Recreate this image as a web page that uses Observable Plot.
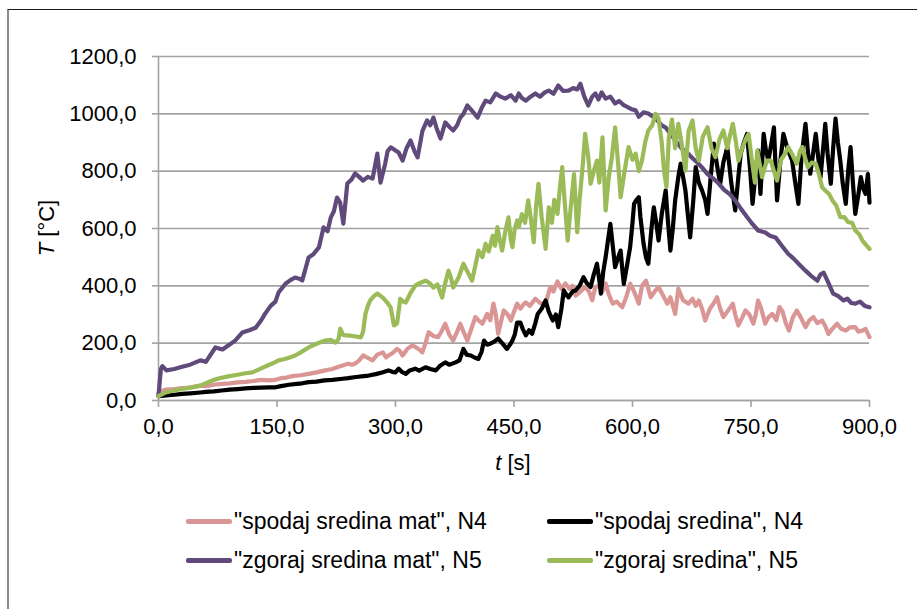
<!DOCTYPE html>
<html>
<head>
<meta charset="utf-8">
<script src="https://cdn.jsdelivr.net/npm/d3@7"></script>
<script src="https://cdn.jsdelivr.net/npm/@observablehq/plot@0.6"></script>
<style>
  html, body { margin: 0; padding: 0; background: #fff; }
  body { width: 917px; height: 609px; position: relative; overflow: hidden; font-family: "Liberation Sans", Arial, sans-serif; }
  #frame { position: absolute; left: 7px; top: 9px; right: 0; bottom: 0; border-top: 1px solid #1a1a1a; border-left: 2px solid #8c8c8c; }
  #chart { position: absolute; left: 0; top: 0; }
  .title { position: absolute; font-size: 22px; color: #000; white-space: nowrap; }
  #xtitle { left: 513px; top: 463px; transform: translate(-50%, -50%); }
  #ytitle { left: 47px; top: 228px; transform: translate(-50%, -50%) rotate(-90deg); }
  .leg { position: absolute; display: flex; align-items: center; font-size: 23px; color: #000; white-space: nowrap; }
  .sw { width: 46px; height: 5px; margin-right: 2px; border-radius: 2px; }
</style>
</head>
<body>
<div id="frame"></div>
<div id="chart"></div>
<div id="xtitle" class="title"><i>t</i> [s]</div>
<div id="ytitle" class="title"><i>T</i> [°C]</div>
<div id="legend"></div>
<script>
// ---- data ----
const seriesNames = ['"spodaj sredina mat", N4', '"spodaj sredina", N4', '"zgoraj sredina mat", N5', '"zgoraj sredina", N5'];
const seriesColors = ["#D99694", "#000000", "#604A7B", "#9BBB59"];

const tPink = [0,5,10,20,30,40,53,60,70,80,90,100,110,120,130,140,148,155,162,170,180,190,200,211,220,228,233,240,245,249,254,259,264,271,277,284,288,291,296,302,305,309,315,321,326,330,334,338,342,348,354,358,363,368,373,378,382,386,391,396,401,405,410,416,420,424,427,430,434,437,442,446,450,454,458,462,465,470,477,483,490,496,500,505,510,515,520,524,528,534,540,545,549,553,558,562,566,570,575,580,587,592,597,602,608,612,617,620,623,628,633,638,644,648,654,658,664,671,676,680,684,688,692,698,703,707,711,715,720,727,730,734,739,743,748,753,756,759,763,768,772,777,782,786,790,794,798,803,808,813,819,824,829,834,840,844,848,853,859,864,870,875,882,886,891,895,900];
const vPink = [25,35,38,40,43,45,52,50,55,58,60,63,65,68,72,70,72,78,80,85,88,93,98,105,110,118,122,128,125,129,140,157,150,140,160,168,150,157,165,180,174,157,180,192,185,178,168,200,238,225,221,240,268,230,209,240,268,240,209,250,291,280,268,302,280,338,300,233,280,314,300,279,310,338,320,335,342,330,355,340,338,396,380,415,390,408,390,400,366,380,396,380,350,396,400,380,408,370,338,345,325,360,408,380,338,400,418,390,360,380,396,370,338,360,302,390,350,338,355,330,349,320,279,320,340,360,320,291,310,338,300,262,290,314,300,268,300,349,320,268,290,302,280,326,310,270,244,290,314,290,256,280,291,270,279,260,232,250,268,250,244,255,256,240,244,250,221];

const tBlack = [0,10,20,30,40,53,60,70,80,90,100,110,120,130,140,148,155,165,175,182,190,200,210,220,233,240,250,260,266,275,283,291,296,300,304,308,313,318,325,330,338,344,351,356,363,368,376,381,386,390,395,400,405,409,412,416,420,425,430,435,441,445,448,451,454,458,461,465,469,473,477,480,485,490,494,499,503,506,510,513,516,519,524,528,533,538,542,547,551,555,558,560,563,566,569,572,575,578,582,585,587,589,593,597,600,602,605,608,610,614,617,620,624,627,630,633,637,642,645,648,651,654,658,661,664,667,670,673,677,680,684,688,692,695,699,703,707,711,715,720,725,730,734,737,741,745,749,752,756,759,762,766,769,772,776,779,781,783,787,791,796,802,806,810,814,819,822,825,829,832,835,838,841,844,847,851,854,857,860,863,866,870,873,876,879,882,886,889,892,895,898,900];
const vBlack = [15,18,20,23,25,28,30,32,35,38,40,42,44,45,46,46,50,55,58,60,64,66,70,72,76,78,82,85,87,92,98,105,100,98,111,100,93,105,111,104,116,110,105,120,133,125,133,140,180,160,157,150,145,170,209,195,198,205,216,200,180,195,209,230,272,272,250,227,245,233,270,302,320,349,310,279,300,256,320,384,370,360,380,384,400,430,410,396,440,477,420,373,450,500,560,616,540,465,500,523,460,407,470,535,620,686,700,709,640,547,500,477,600,674,620,558,650,733,620,523,600,698,780,826,780,733,650,569,700,814,760,733,700,651,780,896,820,756,830,884,760,663,780,861,900,930,800,686,800,872,721,930,870,837,900,953,820,698,830,930,880,837,760,686,850,965,870,791,870,930,850,779,870,965,860,756,880,983,900,837,760,686,800,884,760,651,720,779,740,721,790,690];

const tPurple = [0,3,5,10,20,30,40,53,60,72,81,90,97,106,115,123,130,135,142,148,152,161,167,173,178,182,190,196,203,209,214,218,222,226,230,234,239,244,249,254,259,265,271,277,281,287,290,294,300,304,309,314,319,324,328,334,340,344,348,352,357,363,368,373,378,382,386,391,397,404,409,414,420,427,433,439,446,452,456,460,465,471,477,483,489,494,500,506,512,519,525,530,534,539,544,549,553,557,561,566,572,578,583,589,595,600,604,608,614,620,626,632,637,642,648,655,662,669,676,682,688,695,702,709,716,723,730,737,745,752,759,768,774,781,789,797,804,812,819,826,834,838,842,848,854,860,867,872,877,882,888,894,900];
const vPurple = [18,110,120,105,110,118,125,140,135,185,178,195,209,237,245,254,280,303,330,345,377,408,420,429,425,419,499,510,534,604,590,638,660,708,690,617,757,770,792,780,767,780,774,861,760,827,870,883,872,865,837,880,907,870,848,940,977,960,987,950,914,970,955,942,960,987,1000,1029,1010,987,1020,1046,1040,1071,1060,1053,1065,1046,1071,1055,1046,1060,1071,1060,1075,1081,1070,1099,1080,1081,1090,1085,1105,1060,1029,1060,1071,1050,1075,1053,1060,1036,1045,1030,1022,1015,1012,990,1005,1001,990,975,960,952,930,905,880,865,845,830,813,790,775,757,735,720,698,670,640,615,593,586,575,569,540,512,495,472,453,435,418,440,446,410,373,365,349,355,340,338,345,330,325];

const tGreen = [0,9,20,30,40,53,60,70,81,90,100,110,119,130,138,144,152,160,166,173,180,190,200,211,218,224,228,230,234,240,248,256,259,262,265,268,273,277,281,285,290,294,298,302,306,310,313,319,325,331,338,343,348,353,359,363,367,370,373,380,386,391,397,401,405,410,414,418,423,426,429,432,435,439,443,446,448,451,454,456,460,464,468,471,475,478,481,485,490,494,498,501,505,508,511,514,518,522,526,530,533,537,540,544,547,551,555,558,562,566,570,574,578,582,585,590,595,600,604,608,612,616,620,625,629,633,637,640,643,646,650,654,658,662,667,671,676,680,684,689,695,700,705,710,715,720,723,727,731,734,739,743,747,751,755,758,764,770,775,779,783,788,793,797,802,808,812,815,818,822,827,832,836,840,845,849,853,858,863,868,873,878,882,887,891,895,900];
const vGreen = [15,28,35,40,45,52,60,72,80,85,90,95,98,112,122,129,140,145,150,157,168,185,198,209,212,202,215,251,228,227,224,220,240,303,330,349,365,373,365,356,340,324,262,269,355,345,342,375,401,410,418,410,394,405,359,410,453,430,394,430,477,450,418,470,523,500,547,520,575,540,605,560,523,590,639,560,535,600,628,605,650,620,698,640,552,680,756,640,529,674,620,700,651,740,814,700,558,680,790,587,700,820,930,850,756,800,837,760,918,663,780,850,953,820,709,800,884,840,861,800,837,900,942,960,1000,985,900,800,745,918,980,880,965,900,802,940,977,880,837,920,953,880,849,910,942,880,920,965,900,837,880,910,930,840,760,872,779,837,837,800,767,840,860,884,860,826,870,884,850,814,830,826,790,744,730,720,698,680,640,640,622,620,593,580,558,545,529];

const xTicks = [0, 150, 300, 450, 600, 750, 900];
const yTicks = [0, 200, 400, 600, 800, 1000, 1200];

// ---- build table ----
const seriesT = [tPink, tBlack, tPurple, tGreen];
const seriesV = [vPink, vBlack, vPurple, vGreen];
const rows = [];
seriesNames.forEach((name, i) => {
  seriesT[i].forEach((t, j) => rows.push({series: name, t, T: seriesV[i][j]}));
});

const fmt = d => d.toFixed(1).replace(".", ",");
const gridColor = "#a3a3a3";

const chart = Plot.plot({
  width: 917,
  height: 480,
  marginLeft: 158,
  marginRight: 48,
  marginTop: 56,
  marginBottom: 80,
  style: {fontFamily: "'Liberation Sans', Arial, sans-serif", fontSize: "22px", background: "transparent", color: "#000"},
  x: {domain: [0, 900]},
  y: {domain: [0, 1200]},
  color: {domain: seriesNames, range: seriesColors},
  marks: [
    Plot.gridY(yTicks, {stroke: gridColor, strokeOpacity: 1, strokeWidth: 1.6}),
    Plot.ruleX([0], {stroke: gridColor, strokeWidth: 1.6}),
    Plot.ruleY([0], {stroke: gridColor, strokeWidth: 1.6}),
    Plot.axisX(xTicks, {tickFormat: fmt, tickSize: 7, tickPadding: 11, stroke: gridColor, strokeWidth: 1.6, fill: "#000", fontSize: 22, label: null}),
    Plot.axisY(yTicks, {tickFormat: fmt, tickSize: 6, tickPadding: 16, stroke: gridColor, strokeWidth: 1.6, fill: "#000", fontSize: 22, label: null}),
    Plot.line(rows, {x: "t", y: "T", z: "series", stroke: "series", strokeWidth: 4.2, strokeLinejoin: "round", strokeLinecap: "round"})
  ]
});
document.getElementById("chart").appendChild(chart);

// ---- legend ----
const legend = document.getElementById("legend");
const legPos = [[186, 521], [547, 521], [186, 560], [547, 560]];
seriesNames.forEach((name, i) => {
  const item = document.createElement("div");
  item.className = "leg";
  item.style.left = legPos[i][0] + "px";
  item.style.top = (legPos[i][1] - 14) + "px";
  item.style.height = "28px";
  const sw = document.createElement("div");
  sw.className = "sw";
  sw.style.background = seriesColors[i];
  const tx = document.createElement("span");
  tx.textContent = name;
  item.appendChild(sw);
  item.appendChild(tx);
  legend.appendChild(item);
});
</script>
</body>
</html>
